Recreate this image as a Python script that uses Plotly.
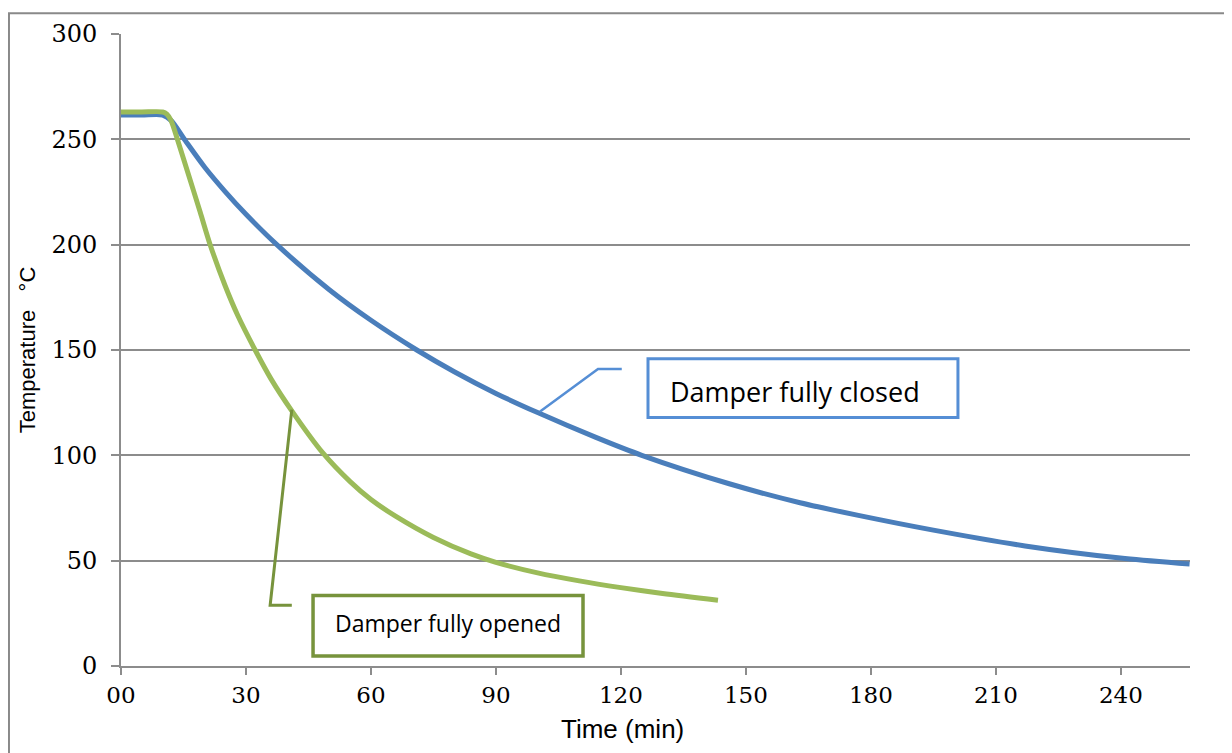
import plotly.graph_objects as go

# ---- data ----
closed_time = [0, 5, 10, 12, 15.4, 20, 25, 30, 37.4, 50, 60, 71, 80, 90, 100, 114, 125,
               146, 163, 177, 195, 217, 241, 256.5]
closed_temp = [261.5, 261.5, 261.5, 259, 249.5, 237, 225.2, 214.4, 200, 178.6, 164.1, 150,
               139.7, 129.4, 120.3, 108.5, 100, 86.5, 77.5, 71.5, 64.5, 57, 51, 48.4]

opened_time = [0, 5, 10, 11, 12, 13.7, 16, 19, 21.4, 25, 28, 32.2, 36, 41, 48.5, 55, 60, 66,
               75, 84, 90, 100, 110, 120, 130, 143.3]
opened_temp = [263, 263, 263, 262, 259, 249, 234.5, 215.5, 200, 180.5, 166.5, 150, 136.3,
               121.1, 101, 87.5, 79, 71, 61, 53.2, 49.2, 44.2, 40.4, 37.2, 34.4, 31.2]

x_tickvals = [0, 30, 60, 90, 120, 150, 180, 210, 240]
x_ticktext = ["00", "30", "60", "90", "120", "150", "180", "210", "240"]
y_tickvals = [0, 50, 100, 150, 200, 250, 300]

label_closed = "Damper fully closed"
label_opened = "Damper fully opened"
x_title = "Time (min)"
y_title = "Temperature\u00a0\u00a0 °C"

BLUE = "#4A7EBB"
GREEN = "#9BBB59"
BOX_BLUE = "#558ED5"
BOX_GREEN = "#77933C"
GRID = "#8C8C8C"

fig = go.Figure()
fig.add_trace(go.Scatter(x=closed_time, y=closed_temp, mode="lines",
                         line=dict(color=BLUE, width=5, shape="spline", smoothing=0.8),
                         showlegend=False, hoverinfo="skip"))
fig.add_trace(go.Scatter(x=opened_time, y=opened_temp, mode="lines",
                         line=dict(color=GREEN, width=5, shape="spline", smoothing=0.8),
                         showlegend=False, hoverinfo="skip"))

shapes = [
    # outer chart border
    dict(type="rect", xref="paper", yref="paper", x0=-0.1048, x1=1.0356, y0=-0.16, y1=1.033,
         line=dict(color="#898989", width=2), fillcolor="rgba(0,0,0,0)", layer="below"),
    # closed callout box
    dict(type="rect", xref="x", yref="y", x0=126.5, x1=200.9, y0=117.9, y1=145.8,
         line=dict(color=BOX_BLUE, width=3), fillcolor="white"),
    # closed leader line
    dict(type="path", xref="x", yref="y", path="M 100.6,120.8 L 114.5,141 L 120.2,141",
         line=dict(color=BOX_BLUE, width=2.5)),
    # opened callout box
    dict(type="rect", xref="x", yref="y", x0=46.1, x1=110.9, y0=4.7, y1=33.5,
         line=dict(color=BOX_GREEN, width=3.5), fillcolor="white"),
    # opened leader line
    dict(type="path", xref="x", yref="y", path="M 41,121.7 L 35.8,28.8 L 41,28.8",
         line=dict(color=BOX_GREEN, width=3)),
]

annotations = [
    dict(x=161.8, y=130.5, xref="x", yref="y", text=label_closed, showarrow=False,
         font=dict(family="Open Sans", size=27, color="black")),
    dict(x=78.6, y=20.5, xref="x", yref="y", text=label_opened, showarrow=False,
         font=dict(family="Open Sans", size=23, color="black")),
    dict(x=0.4687, y=-0.099, xref="paper", yref="paper", text=x_title, showarrow=False,
         xanchor="center", yanchor="middle",
         font=dict(family="Liberation Sans", size=26, color="black")),
]

fig.update_layout(
    width=1224, height=745,
    margin=dict(l=113, r=42, t=22, b=87),
    paper_bgcolor="white", plot_bgcolor="white",
    shapes=shapes, annotations=annotations,
    xaxis=dict(range=[0, 256.6], tickvals=x_tickvals, ticktext=x_ticktext,
               showgrid=False, zeroline=False, showline=True, linecolor=GRID, linewidth=2,
               ticks="outside", ticklen=7, tickwidth=2, tickcolor=GRID,
               tickfont=dict(family="DejaVu Serif", size=23, color="black")),
    yaxis=dict(range=[0, 300], tickvals=y_tickvals,
               showgrid=True, gridcolor=GRID, gridwidth=2, zeroline=False,
               showline=True, linecolor=GRID, linewidth=2,
               ticks="outside", ticklen=8, tickwidth=2, tickcolor=GRID,
               ticklabelstandoff=9,
               tickfont=dict(family="DejaVu Serif", size=24, color="black"),
               title=dict(text=y_title, standoff=10,
                          font=dict(family="Liberation Sans", size=22, color="black"))),
)

fig.write_html("out.html")
